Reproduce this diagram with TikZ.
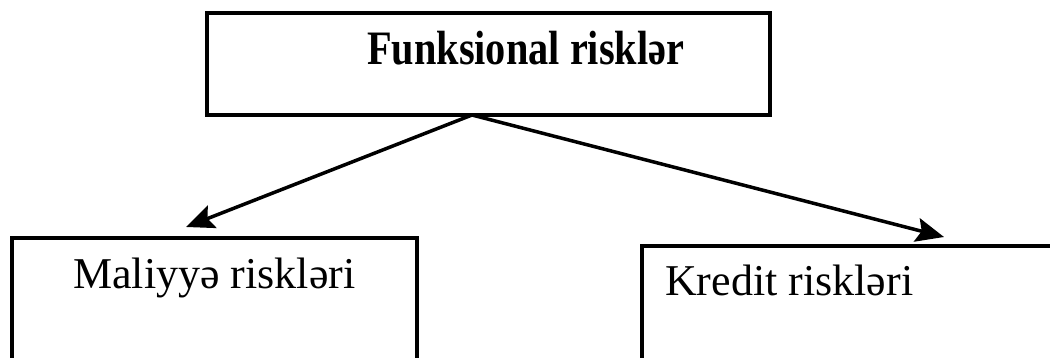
\documentclass[tikz,border=0pt]{standalone}
\usepackage{fontspec}
\setmainfont{Liberation Serif}
\usetikzlibrary{arrows.meta}
\begin{document}
\begin{tikzpicture}[x=1pt,y=-1pt,
  box/.style={draw=black,line width=3.5pt,inner sep=0pt,rectangle},
  arr/.style={line width=3.5pt,-{Stealth[length=28pt 0,width=24pt 0,inset=5pt]}},
  lbl/.style={inner sep=0pt,anchor=base west}]
  \clip (0,0) rectangle (1050,358);
  % top box
  \node[box,minimum width=563pt,minimum height=102pt] (top) at (488.5,64) {};
  \node[lbl] (toptext) at (367,65)
    {\fontsize{48pt}{56pt}\selectfont\bfseries\scalebox{0.84}[1]{Funksional risklər}};
  % lower boxes (running past the page edge)
  \node[box,minimum width=405pt,minimum height=200pt] (left) at (214.5,338) {};
  \node[lbl] (lefttext) at (73,288)
    {\fontsize{44pt}{52pt}\selectfont Maliyyə riskləri};
  \node[box,minimum width=480pt,minimum height=200pt] (right) at (882,346) {};
  \node[lbl] (righttext) at (665,295)
    {\fontsize{44pt}{52pt}\selectfont Kredit riskləri};
  % connectors
  \coordinate (src) at (472,115);
  \coordinate (ltip) at (186,227);
  \coordinate (rtip) at (944,237);
  \draw[arr] (src) -- (ltip);
  \draw[arr] (src) -- (rtip);
\end{tikzpicture}
\end{document}
